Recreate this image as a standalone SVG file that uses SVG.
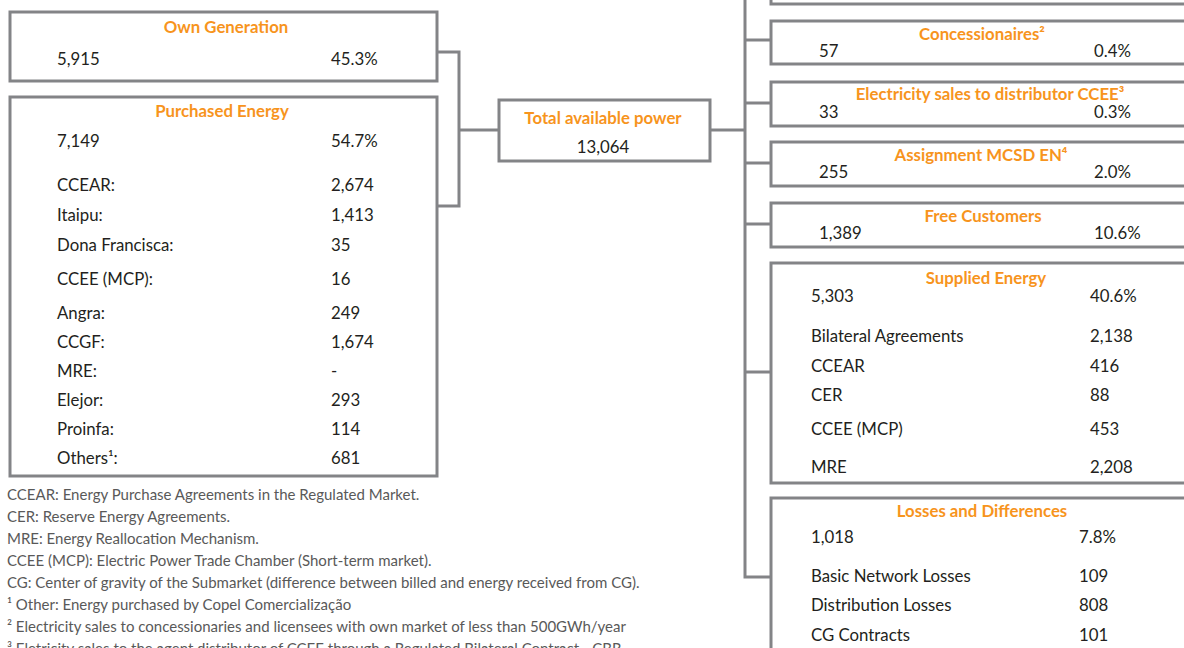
<svg xmlns="http://www.w3.org/2000/svg" width="1184" height="648" viewBox="0 0 1184 648">
<style>
.box{fill:#fff;stroke:#838487;stroke-width:3}
.con{fill:none;stroke:#838487;stroke-width:3}
.t{font-family:Lato,"Liberation Sans",sans-serif;font-weight:bold;font-size:16.8px;fill:#F7941D;text-anchor:middle}
.v{font-family:Lato,"Liberation Sans",sans-serif;font-size:16.8px;fill:#231f20}
.f{font-family:Lato,"Liberation Sans",sans-serif;font-size:15px;fill:#595959}
</style>
<rect width="1184" height="648" fill="#fff"/>
<g id="connectors">
<path class="con" d="M437,52 H459 V206 H437"/>
<path class="con" d="M459,130 H498"/>
<path class="con" d="M710,130 H745"/>
<path class="con" d="M745,0 V577 H771"/>
<path class="con" d="M745,40 H771 M745,103 H771 M745,163 H771 M745,224 H771 M745,372 H771"/>
</g>
<g id="top-box"><rect class="box" x="771" y="-40" width="440" height="44"/></g>
<g id="own-generation">
<rect class="box" x="10" y="12" width="427" height="69"/>
<text class="t" x="226" y="33">Own Generation</text>
<text class="v" x="57" y="65">5,915</text>
<text class="v" x="331" y="65">45.3%</text>
</g>
<g id="purchased-energy">
<rect class="box" x="10" y="97" width="427" height="379"/>
<text class="t" x="222" y="117">Purchased Energy</text>
<text class="v" x="57" y="147">7,149</text><text class="v" x="331" y="147">54.7%</text>
<text class="v" x="57" y="191">CCEAR:</text><text class="v" x="331" y="191">2,674</text>
<text class="v" x="57" y="221">Itaipu:</text><text class="v" x="331" y="221">1,413</text>
<text class="v" x="57" y="251">Dona Francisca:</text><text class="v" x="331" y="251">35</text>
<text class="v" x="57" y="285">CCEE (MCP):</text><text class="v" x="331" y="285">16</text>
<text class="v" x="57" y="319">Angra:</text><text class="v" x="331" y="319">249</text>
<text class="v" x="57" y="348">CCGF:</text><text class="v" x="331" y="348">1,674</text>
<text class="v" x="57" y="377">MRE:</text><text class="v" x="331" y="377">-</text>
<text class="v" x="57" y="406">Elejor:</text><text class="v" x="331" y="406">293</text>
<text class="v" x="57" y="435">Proinfa:</text><text class="v" x="331" y="435">114</text>
<text class="v" x="57" y="464">Others¹:</text><text class="v" x="331" y="464">681</text>
</g>
<g id="total-available-power">
<rect class="box" x="499" y="100" width="211" height="61"/>
<text class="t" x="603" y="124">Total available power</text>
<text class="v" x="603" y="153" text-anchor="middle">13,064</text>
</g>
<g id="concessionaires">
<rect class="box" x="771" y="21" width="440" height="43"/>
<text class="t" x="982" y="40">Concessionaires²</text>
<text class="v" x="819" y="57">57</text><text class="v" x="1094" y="57">0.4%</text>
</g>
<g id="electricity-sales">
<rect class="box" x="771" y="82" width="440" height="44"/>
<text class="t" x="990" y="100">Electricity sales to distributor CCEE³</text>
<text class="v" x="819" y="118">33</text><text class="v" x="1094" y="118">0.3%</text>
</g>
<g id="assignment-mcsd">
<rect class="box" x="771" y="142" width="440" height="44"/>
<text class="t" x="981" y="161">Assignment MCSD EN⁴</text>
<text class="v" x="819" y="178">255</text><text class="v" x="1094" y="178">2.0%</text>
</g>
<g id="free-customers">
<rect class="box" x="771" y="203" width="440" height="44"/>
<text class="t" x="983" y="222">Free Customers</text>
<text class="v" x="819" y="239">1,389</text><text class="v" x="1094" y="239">10.6%</text>
</g>
<g id="supplied-energy">
<rect class="box" x="771" y="263" width="440" height="220"/>
<text class="t" x="986" y="284">Supplied Energy</text>
<text class="v" x="811" y="302">5,303</text><text class="v" x="1090" y="302">40.6%</text>
<text class="v" x="811" y="342">Bilateral Agreements</text><text class="v" x="1090" y="342">2,138</text>
<text class="v" x="811" y="372">CCEAR</text><text class="v" x="1090" y="372">416</text>
<text class="v" x="811" y="401">CER</text><text class="v" x="1090" y="401">88</text>
<text class="v" x="811" y="435">CCEE (MCP)</text><text class="v" x="1090" y="435">453</text>
<text class="v" x="811" y="473">MRE</text><text class="v" x="1090" y="473">2,208</text>
</g>
<g id="losses-and-differences">
<rect class="box" x="771" y="498" width="440" height="200"/>
<text class="t" x="982" y="517">Losses and Differences</text>
<text class="v" x="811" y="543">1,018</text><text class="v" x="1079" y="543">7.8%</text>
<text class="v" x="811" y="582">Basic Network Losses</text><text class="v" x="1079" y="582">109</text>
<text class="v" x="811" y="611">Distribution Losses</text><text class="v" x="1079" y="611">808</text>
<text class="v" x="811" y="641">CG Contracts</text><text class="v" x="1079" y="641">101</text>
</g>
<g id="footnotes">
<text class="f" x="7" y="500">CCEAR: Energy Purchase Agreements in the Regulated Market.</text>
<text class="f" x="7" y="522">CER: Reserve Energy Agreements.</text>
<text class="f" x="7" y="544">MRE: Energy Reallocation Mechanism.</text>
<text class="f" x="7" y="566">CCEE (MCP): Electric Power Trade Chamber (Short-term market).</text>
<text class="f" x="7" y="588">CG: Center of gravity of the Submarket (difference between billed and energy received from CG).</text>
<text class="f" x="7" y="610">¹ Other: Energy purchased by Copel Comercialização</text>
<text class="f" x="7" y="632">² Electricity sales to concessionaries and licensees with own market of less than 500GWh/year</text>
<text class="f" x="7" y="654">³ Eletricity sales to the agent distributor of CCEE through a Regulated Bilateral Contract - CBR</text>
</g>
</svg>
